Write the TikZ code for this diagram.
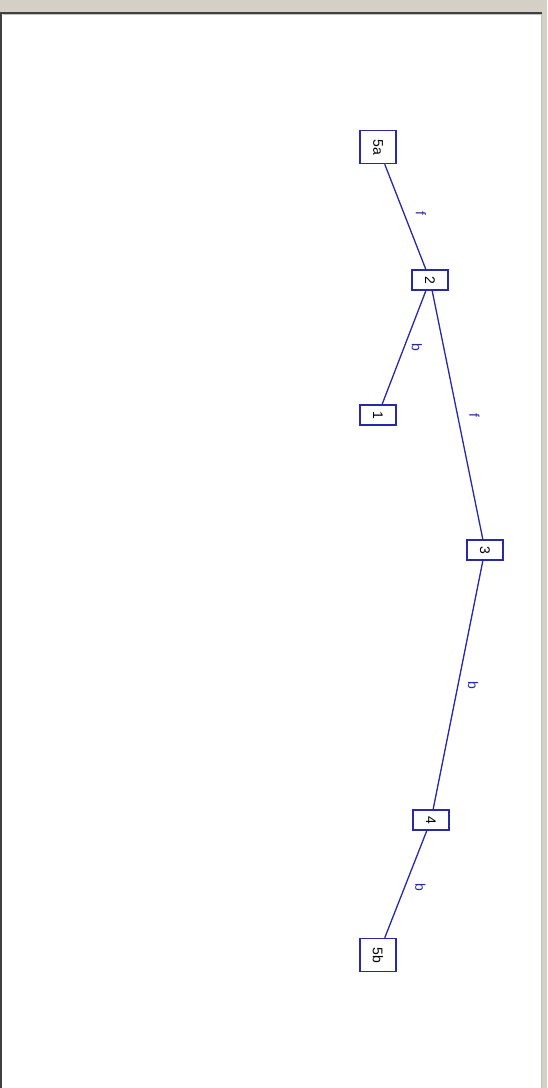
\documentclass[tikz,border=0pt]{standalone}
\usepackage{fontspec}
\setmainfont{Liberation Sans}
\usetikzlibrary{calc}
\definecolor{winbg}{RGB}{212,208,200}
\definecolor{edgeblue}{RGB}{40,40,170}
\definecolor{framedark}{RGB}{64,64,64}
\definecolor{framelight}{RGB}{190,190,190}
\begin{document}
\begin{tikzpicture}[x=1pt,y=-1pt,
  state/.style={draw=edgeblue, line width=1.5pt, fill=white, rotate=-90, inner sep=0pt,
    minimum width=20pt, minimum height=36pt, font=\fontsize{14}{16}\selectfont, text=black},
  wide/.style={minimum width=33pt},
  link/.style={draw=edgeblue, line width=1.3pt},
  elabel/.style={rotate=-90, text=edgeblue, font=\fontsize{14}{16}\selectfont, inner sep=0pt}]
\useasboundingbox (0,0) rectangle (547,1088);
% window frame
\fill[winbg] (0,0) rectangle (547,1088);
\fill[white] (2,14) rectangle (541,1088);
\draw[framedark, line width=2pt] (0,13) -- (542,13);
\draw[framedark, line width=2.5pt] (1,12) -- (1,1088);
\draw[framelight, line width=0.8pt] (2.5,14.5) -- (541,14.5) -- (541,1088);
% nodes
\node[state,wide] (n5a) at (378,147) {5a};
\node[state] (n2) at (430,280) {2};
\node[state] (n1) at (378,415) {1};
\node[state] (n3) at (485,550) {3};
\node[state] (n4) at (431,820) {4};
\node[state,wide] (n5b) at (378,955) {5b};
% edges
\draw[link] (n5a) -- (n2);
\draw[link] (n2) -- (n1);
\draw[link] (n2) -- (n3);
\draw[link] (n3) -- (n4);
\draw[link] (n4) -- (n5b);
% labels
\node[elabel] (l1) at ($(n5a)!0.5!(n2)+(17,0)$) {f};
\node[elabel] (l2) at ($(n2)!0.5!(n1)+(13,0)$) {b};
\node[elabel] (l3) at ($(n2)!0.5!(n3)+(17,0)$) {f};
\node[elabel] (l4) at ($(n3)!0.5!(n4)+(15,0)$) {b};
\node[elabel] (l5) at ($(n4)!0.5!(n5b)+(16,0)$) {b};
\end{tikzpicture}
\end{document}
